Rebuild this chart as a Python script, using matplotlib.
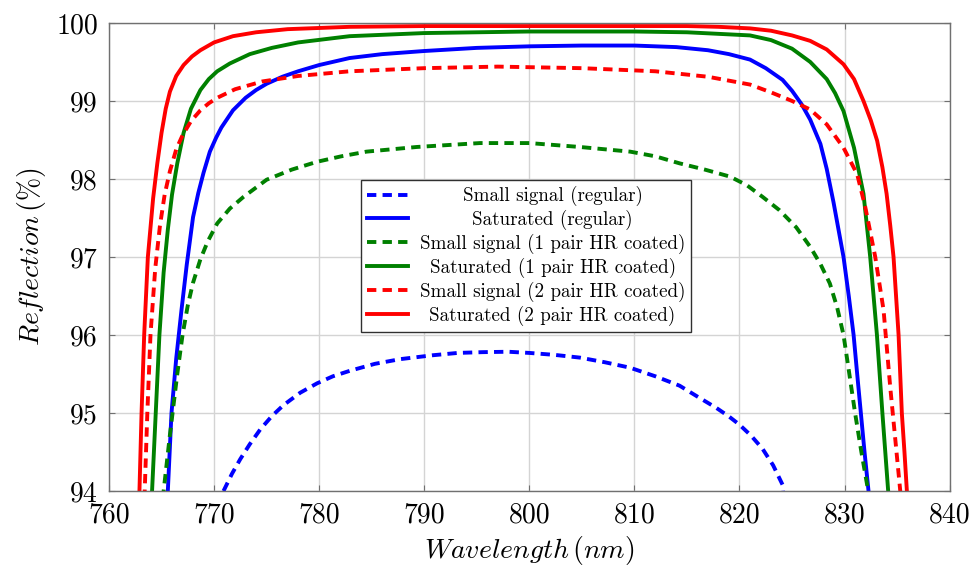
import matplotlib.pyplot as plt

plt.rcParams["mathtext.fontset"] = "cm"
plt.rcParams["font.family"] = "cmr10"
plt.rcParams["axes.formatter.use_mathtext"] = True

# wavelength (nm) / reflection (%)
small_regular_x = [770.9, 771.7, 772.5, 773.4, 774.4, 775.5, 776.6, 778.2, 779.8, 781.3,
                   782.9, 785.3, 787.7, 790.8, 793.2, 795.6, 798.0, 800.0, 802.4, 804.8,
                   807.2, 809.6, 812.0, 814.3, 816.0, 817.8, 819.0, 820.0, 821.1, 822.2,
                   823.2, 824.1, 824.2]
small_regular_y = [94.0, 94.22, 94.41, 94.6, 94.79, 94.96, 95.1, 95.26, 95.38, 95.47,
                   95.54, 95.63, 95.69, 95.74, 95.77, 95.78, 95.785, 95.77, 95.745, 95.71,
                   95.65, 95.58, 95.47, 95.35, 95.21, 95.065, 94.955, 94.85, 94.71, 94.54,
                   94.33, 94.08, 93.9]

sat_regular_x = [765.5, 765.6, 765.95, 766.4, 766.9, 767.4, 768.0, 768.5, 769.0, 769.6,
                 770.2, 770.7, 771.8, 773.0, 774.0, 775.0, 776.5, 778.0, 780.0, 782.9,
                 786.0, 790.0, 795.0, 800.0, 805.0, 810.0, 814.0, 817.0, 819.0, 821.0,
                 822.5, 824.1, 825.0, 825.9, 826.73, 827.7, 828.3, 828.95, 829.9, 830.4,
                 830.86, 831.2, 831.55, 831.9, 832.28, 832.35]
sat_regular_y = [93.9, 94.0, 95.0, 95.7, 96.32, 96.9, 97.51, 97.82, 98.08, 98.35,
                 98.53, 98.66, 98.88, 99.04, 99.14, 99.22, 99.31, 99.38, 99.46, 99.55,
                 99.6, 99.64, 99.68, 99.70, 99.71, 99.71, 99.69, 99.65, 99.6, 99.53,
                 99.42, 99.27, 99.13, 98.96, 98.76, 98.45, 98.13, 97.7, 97.0, 96.5,
                 96.0, 95.5, 95.0, 94.5, 94.0, 93.9]

small_1pair_x = [765.1, 765.2, 765.8, 766.5, 767.0, 767.5, 768.0, 768.7, 769.4, 770.3,
                 771.5, 772.8, 775.0, 777.4, 779.8, 782.1, 784.5, 789.3, 795.3, 800.0,
                 804.8, 809.6, 812.0, 814.3, 816.7, 819.1, 820.7, 822.2, 823.8, 825.4,
                 826.73, 827.7, 828.6, 829.3, 829.9, 830.4, 831.0, 831.6, 832.25, 832.35]
small_1pair_y = [93.9, 94.0, 94.72, 95.5, 96.0, 96.38, 96.67, 96.97, 97.2, 97.43,
                 97.62, 97.77, 97.99, 98.12, 98.22, 98.29, 98.35, 98.41, 98.46, 98.46,
                 98.41, 98.35, 98.29, 98.2, 98.12, 98.03, 97.92, 97.77, 97.6, 97.38,
                 97.13, 96.91, 96.66, 96.35, 96.0, 95.55, 95.0, 94.5, 94.0, 93.9]

sat_1pair_x = [764.0, 764.1, 764.45, 764.8, 765.2, 765.6, 766.0, 766.5, 767.1, 767.8,
               768.7, 769.5, 770.3, 771.5, 773.4, 775.5, 778.0, 782.9, 790.0, 800.0,
               810.0, 815.0, 818.0, 821.0, 823.0, 825.0, 826.73, 828.3, 829.1, 829.9,
               830.9, 831.8, 832.44, 833.08, 833.6, 834.15, 834.2]
sat_1pair_y = [93.9, 94.0, 95.0, 96.0, 96.8, 97.35, 97.8, 98.2, 98.59, 98.9,
               99.14, 99.28, 99.38, 99.48, 99.6, 99.68, 99.75, 99.83, 99.87, 99.89,
               99.89, 99.88, 99.86, 99.84, 99.78, 99.67, 99.50, 99.28, 99.1, 98.87,
               98.40, 97.81, 97.0, 96.0, 95.0, 94.0, 93.9]

small_2pair_x = [763.3, 763.4, 763.65, 763.95, 764.4, 764.85, 765.3, 765.8, 766.4, 767.0,
                 767.8, 768.7, 769.5, 770.3, 772.0, 774.6, 778.0, 782.9, 790.0, 797.0,
                 805.0, 812.0, 817.0, 821.0, 823.0, 825.0, 826.73, 828.3, 829.9, 831.2,
                 831.97, 832.92, 833.71, 834.34, 834.8, 835.3, 835.4]
small_2pair_y = [93.9, 94.0, 95.0, 96.0, 96.85, 97.4, 97.8, 98.1, 98.38, 98.56,
                 98.74, 98.88, 98.97, 99.04, 99.15, 99.25, 99.32, 99.38, 99.42, 99.44,
                 99.42, 99.38, 99.31, 99.21, 99.11, 99.0, 98.89, 98.70, 98.40, 98.06,
                 97.64, 97.0, 96.32, 95.34, 94.7, 94.0, 93.9]

sat_2pair_x = [762.8, 762.9, 763.1, 763.35, 763.7, 764.2, 764.6, 765.0, 765.4, 765.8,
               766.4, 767.1, 767.9, 768.7, 770.0, 771.8, 774.0, 777.0, 782.9, 790.0,
               800.0, 810.0, 815.0, 818.0, 821.0, 823.0, 825.0, 826.73, 828.3, 829.9,
               830.9, 831.8, 832.5, 833.1, 833.6, 834.0, 834.35, 834.66, 834.9, 835.14,
               835.45, 835.7, 835.93, 836.0]
sat_2pair_y = [93.9, 94.0, 95.0, 96.0, 97.0, 97.75, 98.2, 98.59, 98.9, 99.12,
               99.32, 99.46, 99.57, 99.65, 99.75, 99.83, 99.88, 99.92, 99.95, 99.96,
               99.96, 99.96, 99.96, 99.95, 99.93, 99.9, 99.84, 99.77, 99.66, 99.47,
               99.28, 99.0, 98.75, 98.49, 98.15, 97.81, 97.4, 97.0, 96.5, 96.0,
               95.0, 94.5, 94.0, 93.9]

x_ticks = [760, 770, 780, 790, 800, 810, 820, 830, 840]
y_ticks = [94, 95, 96, 97, 98, 99, 100]

fig = plt.figure(figsize=(9.73, 5.66), dpi=100)
ax = fig.add_axes([0.112, 0.1325, 0.864, 0.827])

dash = (2.4, 1.6)
lw = 2.8
ax.plot(small_regular_x, small_regular_y, color="#0000ff", lw=lw, dashes=dash,
        label="Small signal (regular)")
ax.plot(sat_regular_x, sat_regular_y, color="#0000ff", lw=lw,
        label="Saturated (regular)")
ax.plot(small_1pair_x, small_1pair_y, color="#008000", lw=lw, dashes=dash,
        label="Small signal (1 pair HR coated)")
ax.plot(sat_1pair_x, sat_1pair_y, color="#008000", lw=lw,
        label="Saturated (1 pair HR coated)")
ax.plot(small_2pair_x, small_2pair_y, color="#ff0000", lw=lw, dashes=dash,
        label="Small signal (2 pair HR coated)")
ax.plot(sat_2pair_x, sat_2pair_y, color="#ff0000", lw=lw,
        label="Saturated (2 pair HR coated)")

ax.set_xlim(760, 840)
ax.set_ylim(94, 100)
ax.set_xticks(x_ticks)
ax.set_yticks(y_ticks)
ax.set_xticklabels([str(v) for v in x_ticks])
ax.set_yticklabels([str(v) for v in y_ticks])
ax.grid(True, color="#d4d4d4", lw=1.0)
ax.set_axisbelow(True)
for s in ax.spines.values():
    s.set_color("#707070")
    s.set_linewidth(1.0)
ax.tick_params(direction="in", length=4, width=0.8, color="#707070",
               top=True, right=True, labelsize=20, pad=8)

ax.set_xlabel(r"$Wavelength\,(nm)$", fontsize=20, labelpad=4)
ax.set_ylabel(r"$Reflection\,(\%)$", fontsize=20, labelpad=6)

leg = ax.legend(loc="center", bbox_to_anchor=(0.496, 0.502), fontsize=13.7,
                fancybox=False, framealpha=1, edgecolor="#303030",
                handlelength=2.2, handletextpad=0.6, labelspacing=0.2,
                borderpad=0.3, borderaxespad=0)
leg.get_frame().set_linewidth(1.0)

# pgfplots centres legend text: shift each label to the middle of the column
fig.canvas.draw()
texts = leg.get_texts()
widths = [t.get_window_extent().width for t in texts]
for t, w in zip(texts, widths):
    t.set_x((max(widths) - w) / 2)

fig.savefig("out.png", dpi=100)
